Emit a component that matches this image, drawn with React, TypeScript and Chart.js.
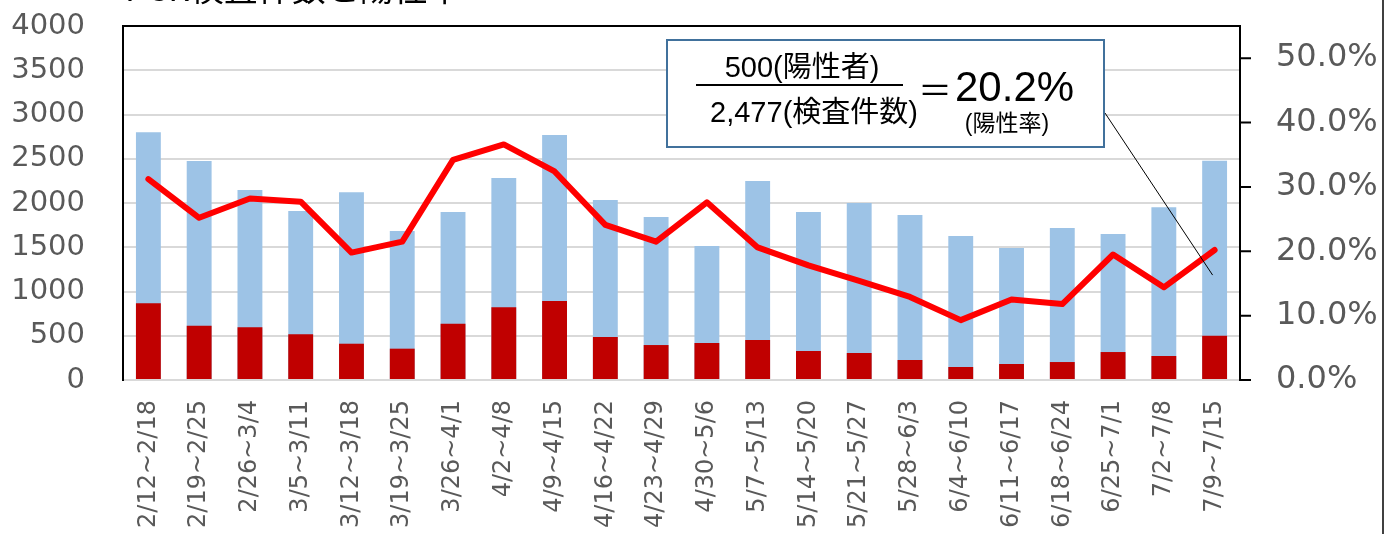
import React, { useEffect, useRef } from 'react';
import { Chart, registerables } from 'chart.js';

Chart.register(...registerables);

const categories = [
  '2/12~2/18', '2/19~2/25', '2/26~3/4', '3/5~3/11', '3/12~3/18', '3/19~3/25',
  '3/26~4/1', '4/2~4/8', '4/9~4/15', '4/16~4/22', '4/23~4/29', '4/30~5/6',
  '5/7~5/13', '5/14~5/20', '5/21~5/27', '5/28~6/3', '6/4~6/10', '6/11~6/17',
  '6/18~6/24', '6/25~7/1', '7/2~7/8', '7/9~7/15',
];

const tests = [
  2800, 2475, 2147, 1910, 2121, 1684, 1898, 2283, 2769, 2034, 1842,
  1514, 2249, 1898, 2000, 1864, 1627, 1492, 1718, 1650, 1952, 2477,
];

const positives = [
  867, 614, 595, 516, 410, 354, 636, 821, 893, 486, 395,
  418, 452, 328, 305, 226, 147, 181, 203, 316, 271, 500,
];

const positiveRate = [
  31.2, 25.2, 28.2, 27.7, 19.8, 21.5, 34.2, 36.6, 32.4, 24.1, 21.5,
  27.6, 20.6, 17.8, 15.4, 12.9, 9.3, 12.5, 11.8, 19.5, 14.4, 20.2,
];

const rightTickValues = [0, 10, 20, 30, 40, 50];

const titleText = 'PCR検査件数と陽性率';
const noteNumerator = '500(陽性者)';
const noteDenominator = '2,477(検査件数)';
const noteEquals = '＝';
const noteResult = '20.2%';
const noteResultLabel = '(陽性率)';

const AXIS_FONT = '"DejaVu Sans", Verdana, sans-serif';
const NOTE_FONT = '"Liberation Sans", Arial, "Noto Sans CJK JP", sans-serif';

const overlayPlugin = {
  id: 'overlay',
  afterDraw(chart: any) {
    const { ctx, chartArea } = chart;
    ctx.save();
    // top border of plot area
    ctx.strokeStyle = '#000';
    ctx.lineWidth = 2;
    ctx.beginPath();
    ctx.moveTo(chartArea.left - 1, chartArea.top);
    ctx.lineTo(chartArea.right + 1, chartArea.top);
    ctx.stroke();

    // outward tick marks on the right (rate) axis
    const yr = chart.scales.yRate;
    ctx.beginPath();
    rightTickValues.forEach((v) => {
      const y = yr.getPixelForValue(v);
      ctx.moveTo(yr.left, y);
      ctx.lineTo(yr.left + 11, y);
    });
    ctx.stroke();

    // outer right frame line
    ctx.lineWidth = 1.5;
    ctx.beginPath();
    ctx.moveTo(1383, 0);
    ctx.lineTo(1383, 534);
    ctx.stroke();

    // title (cut off at top)
    ctx.fillStyle = '#000';
    ctx.font = '34px "Noto Sans CJK JP", sans-serif';
    ctx.textAlign = 'left';
    ctx.textBaseline = 'alphabetic';
    ctx.fillText(titleText, 125, 1);

    // leader line
    const xs = chart.scales.x;
    const lastIdx = categories.length - 1;
    const px = xs.getPixelForValue(lastIdx) - 2;
    const py = yr.getPixelForValue(positiveRate[lastIdx] - 3.9);
    ctx.strokeStyle = '#000';
    ctx.lineWidth = 1;
    ctx.beginPath();
    ctx.moveTo(1105, 113);
    ctx.lineTo(px, py);
    ctx.stroke();

    // annotation box
    ctx.fillStyle = '#fff';
    ctx.fillRect(667, 40, 437, 107);
    ctx.strokeStyle = '#41719C';
    ctx.lineWidth = 2;
    ctx.strokeRect(667, 40, 437, 107);

    ctx.fillStyle = '#000';
    ctx.textBaseline = 'middle';
    ctx.textAlign = 'center';
    ctx.font = '29px ' + NOTE_FONT;
    ctx.fillText(noteNumerator, 802, 69);
    ctx.fillText(noteDenominator, 814, 114);

    ctx.strokeStyle = '#000';
    ctx.lineWidth = 2;
    ctx.beginPath();
    ctx.moveTo(696, 85);
    ctx.lineTo(903, 85);
    ctx.stroke();

    ctx.font = '34px "Noto Sans CJK JP", sans-serif';
    ctx.fillText(noteEquals, 935, 90);

    ctx.textAlign = 'left';
    ctx.font = '42px ' + NOTE_FONT;
    ctx.fillText(noteResult, 955, 89);

    ctx.textAlign = 'center';
    ctx.font = '23px ' + NOTE_FONT;
    ctx.fillText(noteResultLabel, 1007, 125);
    ctx.restore();
  },
};

export default function App() {
  const canvasRef = useRef<HTMLCanvasElement | null>(null);

  useEffect(() => {
    document.body.style.margin = '0';
    const canvas = canvasRef.current;
    if (!canvas) return;
    const chart = new Chart(canvas, {
      type: 'bar',
      data: {
        labels: categories,
        datasets: [
          {
            type: 'line',
            label: '陽性率',
            data: positiveRate,
            yAxisID: 'yRate',
            borderColor: '#FF0000',
            borderWidth: 6,
            pointRadius: 0,
            borderJoinStyle: 'round',
            borderCapStyle: 'round',
            tension: 0,
            fill: false,
            order: 0,
          } as any,
          {
            type: 'bar',
            label: '陽性者',
            data: positives,
            yAxisID: 'y',
            backgroundColor: '#C00000',
            grouped: false,
            categoryPercentage: 1,
            barPercentage: 0.49,
            order: 1,
          } as any,
          {
            type: 'bar',
            label: '検査件数',
            data: tests,
            yAxisID: 'y',
            backgroundColor: '#9DC3E6',
            grouped: false,
            categoryPercentage: 1,
            barPercentage: 0.49,
            order: 2,
          } as any,
        ],
      },
      options: {
        responsive: false,
        animation: false,
        devicePixelRatio: 1,
        layout: { padding: { top: 26, left: 0, right: 0, bottom: 0 } },
        plugins: {
          legend: { display: false },
          tooltip: { enabled: false },
          title: { display: false },
        },
        scales: {
          x: {
            grid: { display: true, drawOnChartArea: false, drawTicks: false },
            border: { display: true, color: '#D9D9D9', width: 2 },
            ticks: {
              autoSkip: false,
              maxRotation: 90,
              minRotation: 90,
              padding: 20,
              color: '#595959',
              font: { family: AXIS_FONT, size: 24 },
            },
            afterFit: (s: any) => { s.height = 154; },
          },
          y: {
            position: 'left',
            min: 0,
            max: 4000,
            ticks: {
              stepSize: 500,
              padding: 0,
              color: '#595959',
              font: { family: AXIS_FONT, size: 29 },
              callback: (v: any) => String(v),
            },
            grid: {
              color: '#D9D9D9',
              lineWidth: 2,
              drawTicks: true,
              tickLength: 38,
              tickColor: 'rgba(0,0,0,0)',
            },
            border: { display: true, color: '#000', width: 2 },
            afterFit: (s: any) => { s.width = 123; },
          },
          yRate: {
            position: 'right',
            min: 0,
            max: 55,
            ticks: {
              stepSize: 10,
              padding: 0,
              color: '#595959',
              font: { family: AXIS_FONT, size: 32 },
              callback: (v: any) => Number(v).toFixed(1) + '%',
            },
            afterBuildTicks: (s: any) => {
              s.ticks = rightTickValues.map((v) => ({ value: v }));
            },
            grid: {
              drawOnChartArea: false,
              drawTicks: true,
              tickLength: 36,
              tickColor: 'rgba(0,0,0,0)',
            },
            border: { display: true, color: '#000', width: 2 },
            afterFit: (s: any) => { s.width = 146; },
          },
        },
      },
      plugins: [overlayPlugin],
    } as any);
    return () => chart.destroy();
  }, []);

  return (
    <div style={{ width: 1386, height: 534, background: '#fff' }}>
      <canvas ref={canvasRef} width={1386} height={534} />
    </div>
  );
}
